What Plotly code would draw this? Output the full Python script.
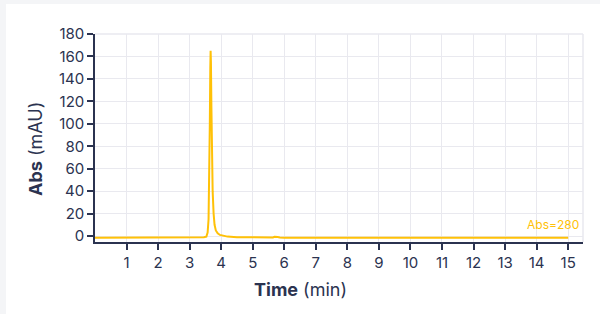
import plotly.graph_objects as go

time_min = [0.0, 0.5, 1.0, 1.5, 2.0, 2.5, 3.0, 3.3, 3.45, 3.53, 3.57, 3.60, 3.62, 3.64, 3.655, 3.665,
            3.675, 3.69, 3.71, 3.73, 3.76, 3.79, 3.83, 3.89, 3.96, 4.05, 4.2, 4.5, 5.0, 5.5, 5.64,
            5.69, 5.73, 5.79, 5.86, 6.0, 7.0, 8.0, 9.0, 10.0, 11.0, 12.0, 13.0, 14.0, 15.0]
abs_mau = [-1.6, -1.6, -1.6, -1.6, -1.5, -1.5, -1.4, -1.3, -1.1, -0.5, 3.0, 15.0, 45.0, 100.0, 150.0, 165.0,
           155.0, 115.0, 70.0, 40.0, 20.0, 10.0, 5.0, 2.5, 1.0, 0.2, -0.5, -1.0, -1.3, -1.4, -1.2,
           -0.6, -0.5, -0.9, -1.3, -1.5, -1.5, -1.5, -1.5, -1.5, -1.5, -1.5, -1.5, -1.5, -1.5]

x_ticks = list(range(1, 16))
y_ticks = list(range(0, 181, 20))

line_color = "#FFC107"
ink = "#2B3350"
grid = "#E9E9EF"
font_family = "Inter, Lato, 'Noto Sans', sans-serif"

PW, PH = 488, 208
ML, MR, MT, MB = 95, 17, 34, 72


def px_x(px):
    return (px - ML) / PW


def px_y(py):
    return (MT + PH - py) / PH


fig = go.Figure()
fig.add_trace(go.Scatter(x=time_min, y=abs_mau, mode="lines",
                         line=dict(color=line_color, width=2), showlegend=False,
                         hoverinfo="skip"))

fig.update_layout(
    width=600, height=314,
    margin=dict(l=ML, r=MR, t=MT, b=MB, autoexpand=False),
    paper_bgcolor="#F4F5F7",
    plot_bgcolor="white",
    font=dict(family=font_family, color=ink, size=14),
    shapes=[
        dict(type="rect", xref="paper", yref="paper", x0=px_x(6), x1=px_x(602),
             y0=px_y(316), y1=px_y(4), fillcolor="white", line=dict(width=0), layer="below"),
        dict(type="line", xref="paper", yref="paper", x0=0, x1=1, y0=1, y1=1,
             line=dict(color=grid, width=1.5), layer="below"),
        dict(type="line", xref="paper", yref="paper", x0=1, x1=1, y0=0, y1=1,
             line=dict(color=grid, width=1.5), layer="below"),
    ],
    annotations=[
        dict(text="Abs=280", xref="paper", yref="paper", x=0.995, y=px_y(224),
             xanchor="right", yanchor="middle", showarrow=False,
             font=dict(color=line_color, size=12, family=font_family)),
        dict(text="<b>Time</b> (min)", xref="paper", yref="paper", x=px_x(300), y=px_y(289),
             xanchor="center", yanchor="middle", showarrow=False,
             font=dict(color=ink, size=18, family=font_family)),
        dict(text="<b>Abs</b> (mAU)", xref="paper", yref="paper", x=px_x(35), y=px_y(149),
             xanchor="center", yanchor="middle", showarrow=False, textangle=-90,
             font=dict(color=ink, size=18, family=font_family)),
    ],
)

fig.update_xaxes(
    range=[0, 15.47], tickvals=x_ticks, ticktext=[str(v) for v in x_ticks],
    automargin=False,
    showgrid=True, gridcolor=grid, gridwidth=1, zeroline=False,
    showline=True, linecolor=ink, linewidth=1.5,
    ticks="outside", ticklen=6, tickcolor=ink, tickwidth=1.5,
    tickfont=dict(size=15, color=ink),
)
fig.update_yaxes(
    range=[-5.3, 180], tickvals=y_ticks, ticktext=[str(v) for v in y_ticks],
    automargin=False,
    showgrid=True, gridcolor=grid, gridwidth=1, zeroline=False,
    showline=True, linecolor=ink, linewidth=1.5,
    ticks="outside", ticklen=6, tickcolor=ink, tickwidth=1.5,
    tickfont=dict(size=15, color=ink),
)

fig.write_html("out.html", config={"displayModeBar": False},
               post_script="document.body.style.margin='0';")
